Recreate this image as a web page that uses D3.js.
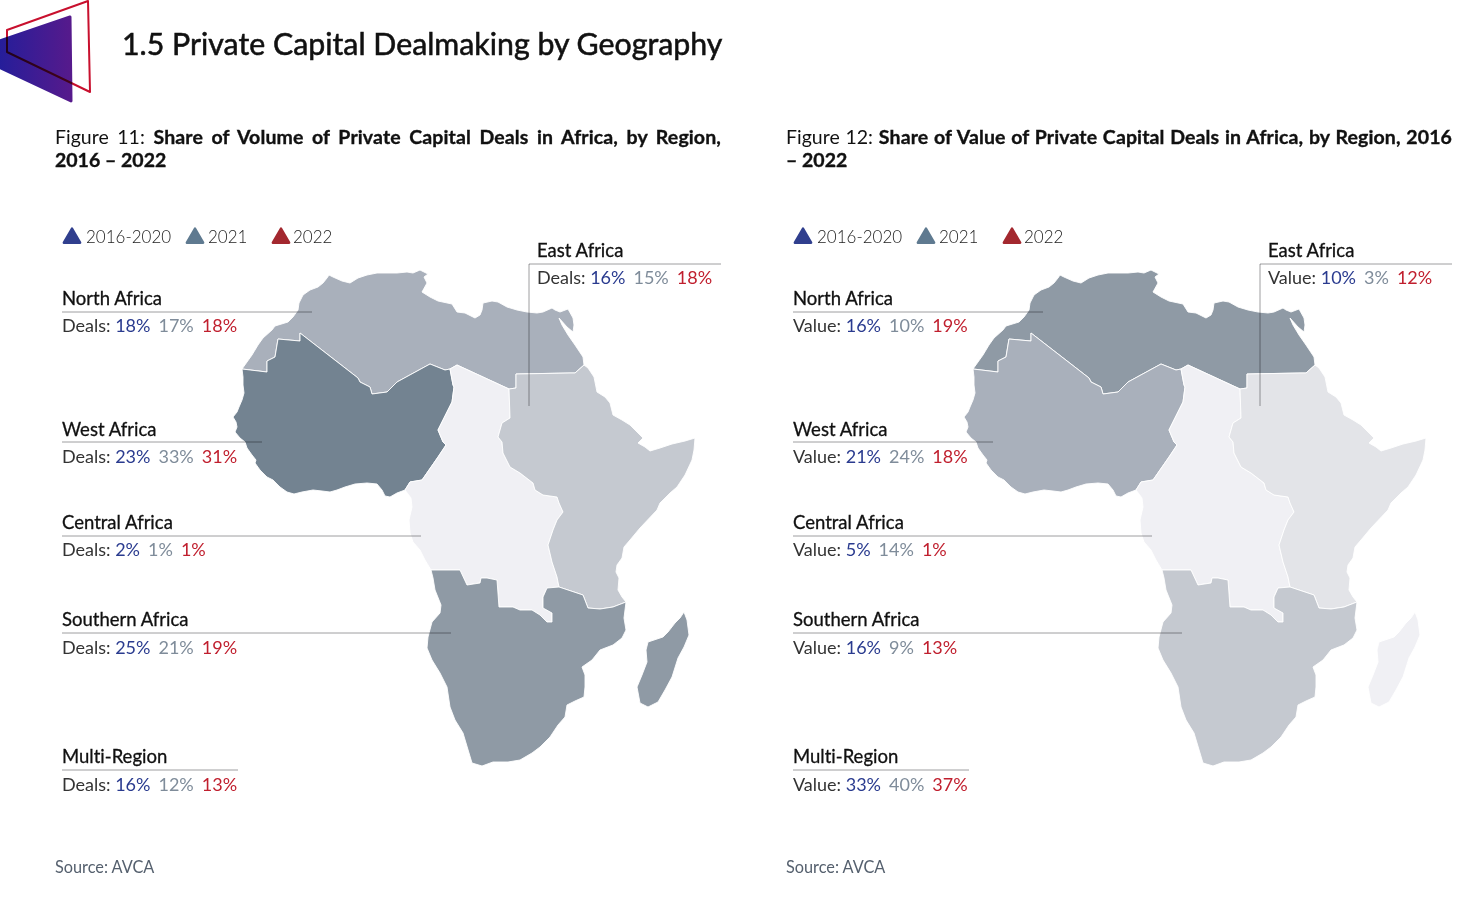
<!DOCTYPE html>
<html>
<head>
<meta charset="utf-8">
<script src="https://cdn.jsdelivr.net/npm/d3@7"></script>
<style>
body { margin: 0; background: #fff; }
text { font-family: Lato, sans-serif; font-variant-ligatures: none; }
.name { font-size: 18.5px; fill: #111; stroke: #111; stroke-width: .3px; }
.val { font-size: 18px; fill: #333; }
.leg { font-size: 17px; font-weight: 300; fill: #222; }
.src { font-size: 16.3px; fill: #55606e; }
.fig { font-size: 19.5px; fill: #111; }
.heavy { font-weight: 700; stroke: #111; stroke-width: .35px; }
.lead { stroke: #7d7d80; stroke-width: 1; mix-blend-mode: multiply; opacity: .75; }
</style>
</head>
<body>
<svg id="chart" width="1481" height="900"></svg>
<script>
const regions = ["North Africa", "West Africa", "Central Africa", "Southern Africa", "East Africa", "Multi-Region"];
const periods = ["2016-2020", "2021", "2022"];

// deals share, same order as regions
const deals2016 = [18, 23, 2, 25, 16, 16];
const deals2021 = [17, 33, 1, 21, 15, 12];
const deals2022 = [18, 31, 1, 19, 18, 13];

// value share
const value2016 = [16, 21, 5, 16, 10, 33];
const value2021 = [10, 24, 14, 9, 3, 40];
const value2022 = [19, 18, 1, 13, 12, 37];

const periodColours = ["#303f8e", "#5f7a90", "#a3282f"];
const valueColours = ["#2a3b8f", "#7f8c9a", "#c01f2e"];

// map outline, traced in map units
const coastNorth = [[242,369],[247,362],[252,355],[258,345],[263,338],[272,330],[275,326],[288,322],[293,317],[298,310],[299,303],[303,295],[310,290],[318,287],[323,283],[327,278],[329,275],[333,277],[342,281],[350,283],[358,278],[367,275],[377,273],[387,273],[397,273],[407,272],[413,273],[420,270],[428,274],[424,277],[427,283],[422,292],[430,297],[438,301],[452,304],[457,312],[465,313],[475,318],[480,315],[482,310],[483,303],[492,301],[498,302],[507,307],[517,310],[527,312],[537,313],[543,312],[552,308],[555,310],[560,312],[568,309],[573,318],[574,325],[573,332],[567,327],[559,318],[562,325],[568,335],[575,345],[583,357],[584,365]];
const borderNorthEast = [[584,365],[575,373],[570,373],[516,374],[516,388],[509,389]];
const borderNorthCentral = [[509,389],[457,365],[450,369]];
const borderNorthWest = [[450,369],[445,370],[430,364],[397,382],[387,392],[372,394],[370,387],[360,382],[358,378],[300,333],[300,341],[278,339],[275,357],[267,361],[267,372],[242,369]];
const coastWest = [[242,369],[243,377],[243,385],[244,393],[242,400],[239,407],[237,412],[233,417],[236,422],[237,427],[235,432],[240,438],[245,442],[247,448],[252,455],[256,460],[255,463],[260,470],[267,477],[273,480],[280,487],[287,492],[294,494],[302,492],[313,490],[322,491],[330,492],[337,490],[345,487],[355,484],[367,483],[377,484],[382,490],[385,496],[390,497],[397,493],[405,490]];
const borderWestCentral = [[405,490],[410,482],[422,480],[438,457],[446,445],[443,442],[438,430],[443,420],[452,402],[454,387],[453,385],[450,369]];
const borderCentralEast = [[509,389],[510,418],[502,423],[498,437],[502,442],[503,453],[510,467],[520,473],[533,483],[535,490],[543,495],[557,497],[559,503],[563,512],[557,520],[553,530],[548,545],[552,562],[557,577],[559,587]];
const borderCentralSouth = [[559,587],[547,588],[543,597],[543,608],[552,613],[552,622],[547,622],[540,615],[532,610],[520,610],[513,607],[499,607],[497,580],[487,578],[481,578],[480,583],[467,585],[460,570],[431,570]];
const coastCentral = [[431,570],[425,560],[420,550],[413,542],[410,533],[409,520],[412,507],[411,498],[405,490]];
const coastEast = [[584,365],[588,368],[594,377],[597,392],[605,397],[610,403],[613,415],[622,420],[630,425],[637,432],[643,438],[638,443],[645,447],[650,451],[660,448],[672,444],[685,441],[695,438],[694,450],[692,460],[685,475],[677,487],[670,493],[660,503],[657,510],[640,528],[630,540],[624,547],[622,558],[617,565],[616,572],[619,578],[618,590],[622,597],[626,602]];
const borderEastSouth = [[626,602],[613,607],[600,609],[588,608],[583,595],[559,587]];
const coastSouth = [[626,602],[624,618],[626,630],[622,638],[613,645],[600,650],[592,660],[582,667],[585,675],[585,687],[584,697],[575,701],[567,705],[565,717],[558,725],[550,737],[540,747],[532,753],[520,760],[508,762],[493,762],[482,766],[472,763],[469,753],[463,733],[455,720],[450,707],[447,687],[440,673],[432,660],[427,648],[428,637],[432,622],[440,613],[441,605],[435,590],[433,578],[431,570]];
const madagascar = [[684,612],[687,620],[689,635],[684,647],[678,658],[672,677],[665,690],[658,702],[648,707],[640,703],[637,687],[642,675],[647,662],[646,650],[648,642],[663,637],[668,632],[675,623],[680,618]];

const rev = a => a.slice().reverse();
const shapes = {
  "North Africa": coastNorth.concat(borderNorthEast, borderNorthCentral, borderNorthWest),
  "West Africa": borderNorthWest.concat(coastWest, borderWestCentral),
  "Central Africa": rev(borderNorthCentral).concat(borderCentralEast, borderCentralSouth, coastCentral, borderWestCentral),
  "East Africa": rev(borderNorthEast).concat(coastEast, borderEastSouth, rev(borderCentralEast)),
  "Southern Africa": rev(borderCentralSouth).concat(rev(borderEastSouth), coastSouth),
  "Madagascar": madagascar
};

const svg = d3.select("#chart");

// logo
const defs = svg.append("defs");
const grad = defs.append("linearGradient").attr("id", "logoGrad");
grad.append("stop").attr("offset", "0%").attr("stop-color", "#0f1fa0");
grad.append("stop").attr("offset", "100%").attr("stop-color", "#561a8c");
svg.append("path").attr("d", "M-33,52L70,17L71,101Z").attr("fill", "url(#logoGrad)")
  .attr("stroke", "url(#logoGrad)").attr("stroke-width", 3).attr("stroke-linejoin", "round");
svg.append("path").attr("d", "M7,30L88,1L90,92L7,52Z").attr("fill", "none")
  .attr("stroke", "#c8102e").attr("stroke-width", 2).attr("stroke-linejoin", "round")
  .style("mix-blend-mode", "multiply");

svg.append("text").attr("x", 122).attr("y", 55)
  .style("font-size", "30.3px").style("fill", "#111").style("stroke", "#111").style("stroke-width", ".55px")
  .text("1.5 Private Capital Dealmaking by Geography");

function drawPanel(cfg) {
  const g = svg.append("g").attr("transform", `translate(${cfg.dx},0)`);

  const mapX = d3.scaleLinear().domain([230, 700]).range([230, 700]);
  const mapY = d3.scaleLinear().domain([270, 770]).range([270, 770]);
  const line = d3.line().x(d => mapX(d[0])).y(d => mapY(d[1])).curve(d3.curveLinearClosed);

  g.selectAll("path.region")
    .data(Object.keys(shapes))
    .enter()
    .append("path")
    .attr("class", "region")
    .attr("d", d => line(shapes[d]))
    .attr("fill", d => cfg.fills[d])
    .attr("stroke", "#fff")
    .attr("stroke-width", 0.9)
    .attr("stroke-linejoin", "round");

  // heading, first line justified
  const head = g.append("text").attr("class", "fig").attr("x", 55).attr("y", 144);
  head.append("tspan").text(cfg.figure + " ");
  head.append("tspan").attr("class", "heavy").style("letter-spacing", ".12px").text(cfg.titleA);
  const words = (cfg.figure + " " + cfg.titleA).split(" ").length - 1;
  head.style("word-spacing", (666 - head.node().getComputedTextLength()) / words + "px");
  g.append("text").attr("class", "fig heavy").attr("x", 55).attr("y", 167).text(cfg.titleB);

  // legend
  const legX = [72, 195, 281];
  const legText = [86, 208, 293];
  periods.forEach((p, i) => {
    g.append("path")
      .attr("d", d3.symbol(d3.symbolTriangle, 115))
      .attr("transform", `translate(${legX[i]},238)`)
      .attr("fill", periodColours[i]).attr("stroke", periodColours[i])
      .attr("stroke-width", 2.4).attr("stroke-linejoin", "round");
    g.append("text").attr("class", "leg").attr("x", legText[i]).attr("y", 243).text(p);
  });

  // region labels
  const labelPos = {
    "North Africa": {x: 62, name: 305, rule: 312, val: 332, end: 312},
    "West Africa": {x: 62, name: 436, rule: 442, val: 463, end: 262},
    "Central Africa": {x: 62, name: 529, rule: 536, val: 556, end: 421},
    "Southern Africa": {x: 62, name: 626, rule: 633, val: 654, end: 451},
    "Multi-Region": {x: 62, name: 763, rule: 770, val: 791, end: 238},
    "East Africa": {x: 537, name: 257, rule: 264, val: 284, end: 721}
  };
  regions.forEach((r, i) => {
    const p = labelPos[r];
    g.append("text").attr("class", "name").attr("x", p.x).attr("y", p.name).text(r);
    const t = g.append("text").attr("class", "val").attr("x", p.x).attr("y", p.val);
    t.append("tspan").text(cfg.word + ": ");
    [cfg.a, cfg.b, cfg.c].forEach((s, j) => {
      t.append("tspan").attr("dx", j ? 8 : 0).style("fill", valueColours[j]).text(s[i] + "%");
    });
    if (r == "East Africa") {
      g.append("line").attr("class", "lead").attr("x1", 529).attr("x2", p.end).attr("y1", p.rule).attr("y2", p.rule);
      g.append("line").attr("class", "lead").attr("x1", 529).attr("x2", 529).attr("y1", p.rule).attr("y2", 406);
    } else {
      g.append("line").attr("class", "lead").attr("x1", p.x).attr("x2", p.end).attr("y1", p.rule).attr("y2", p.rule);
    }
  });

  g.append("text").attr("class", "src").attr("x", 55).attr("y", 873).text("Source: AVCA");
}

drawPanel({
  dx: 0, figure: "Figure 11:", word: "Deals",
  titleA: "Share of Volume of Private Capital Deals in Africa, by Region,",
  titleB: "2016 – 2022",
  a: deals2016, b: deals2021, c: deals2022,
  fills: {"North Africa": "#a9b0bb", "West Africa": "#738391", "Central Africa": "#f0f0f4",
    "Southern Africa": "#8f9aa5", "East Africa": "#c5c9d0", "Madagascar": "#8f9aa5"}
});
drawPanel({
  dx: 731, figure: "Figure 12:", word: "Value",
  titleA: "Share of Value of Private Capital Deals in Africa, by Region, 2016",
  titleB: "– 2022",
  a: value2016, b: value2021, c: value2022,
  fills: {"North Africa": "#8f9aa5", "West Africa": "#a9b0bb", "Central Africa": "#f0f0f4",
    "Southern Africa": "#c5c9d0", "East Africa": "#e3e4e8", "Madagascar": "#f0f0f4"}
});
</script>
</body>
</html>
